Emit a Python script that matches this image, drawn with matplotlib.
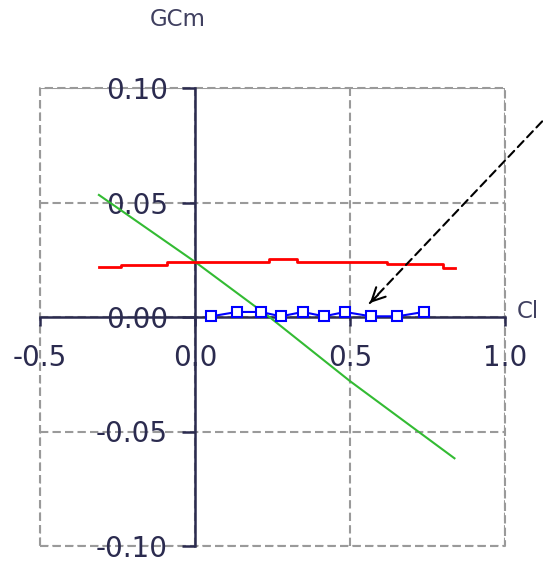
import matplotlib
matplotlib.use("Agg")
import matplotlib.pyplot as plt

# data
green_cl = [-0.31, 0.0, 0.24, 0.5, 0.72, 0.837]
green_cm = [0.0533, 0.0241, 0.0, -0.028, -0.05, -0.0617]

red_cl = [-0.31, -0.24, -0.24, -0.09, -0.09, 0.24, 0.24, 0.33, 0.33, 0.62, 0.62, 0.80, 0.80, 0.84]
red_cm = [0.0217, 0.0217, 0.0227, 0.0227, 0.0242, 0.0242, 0.0252, 0.0252, 0.0242, 0.0242, 0.0231, 0.0231, 0.0214, 0.0214]

blue_cl = [0.052, 0.135, 0.212, 0.277, 0.348, 0.416, 0.484, 0.567, 0.653, 0.738]
blue_cm = [0.0003, 0.0022, 0.0022, 0.0003, 0.0022, 0.0003, 0.0022, 0.0003, 0.0003, 0.0022]

x_ticks = [-0.5, 0.0, 0.5, 1.0]
x_labels = ["-0.5", "0.0", "0.5", "1.0"]
y_ticks = [-0.10, -0.05, 0.00, 0.05, 0.10]
y_labels = ["-0.10", "-0.05", "0.00", "0.05", "0.10"]

arrow_tip = (0.564, 0.0061)
arrow_tail = (1.18, 0.094)

dark = "#2b2b4f"
grey = "#9a9a9a"

fig = plt.figure(figsize=(5.43, 5.63), dpi=100)
ax = fig.add_axes([40 / 543, 17 / 563, 465 / 543, 458 / 563])
ax.set_xlim(-0.5, 1.0)
ax.set_ylim(-0.10, 0.10)

# axes cross at zero
ax.spines["left"].set_position(("data", 0))
ax.spines["bottom"].set_position(("data", 0))
for s in ["left", "bottom"]:
    ax.spines[s].set_color(dark)
    ax.spines[s].set_linewidth(1.8)
    ax.spines[s].set_zorder(2.5)
ax.spines["top"].set_visible(False)
ax.spines["right"].set_visible(False)

# dashed grid and outer box
ax.grid(True, linestyle=(0, (4, 2)), color=grey, linewidth=1.5, zorder=0)
ax.set_axisbelow(True)
ax.plot([0, 1, 1, 0, 0], [0, 0, 1, 1, 0], transform=ax.transAxes, clip_on=False,
        linestyle=(0, (4, 2)), color=grey, linewidth=1.5, zorder=0)

ax.set_xticks(x_ticks)
ax.set_xticklabels(x_labels)
ax.set_yticks(y_ticks)
ax.set_yticklabels(y_labels)
ax.tick_params(axis="x", direction="out", length=6.5, width=1.8, pad=13, colors=dark, labelsize=20)
ax.tick_params(axis="y", direction="out", length=9.5, width=1.8, pad=10, colors=dark, labelsize=20)

# the three curves
ax.plot(green_cl, green_cm, color="#33bb33", linewidth=1.5, zorder=3)
ax.plot(red_cl, red_cm, color="#ff0000", linewidth=2, zorder=3)
ax.plot(blue_cl, blue_cm, color="#0000ff", linewidth=1.5, marker="s", markersize=6.5,
        markerfacecolor="white", markeredgewidth=1.5, zorder=4)

# dashed arrow coming in from the top right, head drawn solid on its own
ax.annotate("", xy=arrow_tip, xytext=arrow_tail, annotation_clip=False,
            arrowprops=dict(arrowstyle="-", linestyle=(0, (4, 2.5)), color="black",
                            linewidth=1.5, shrinkA=0, shrinkB=0))
ax.annotate("", xy=arrow_tip, xytext=(6, 6), textcoords="offset points",
            arrowprops=dict(arrowstyle="->", color="black", linewidth=1.5,
                            mutation_scale=24, shrinkA=0, shrinkB=0))

# axis names
fig.text(178 / 543, 1 - 20 / 563, "GCm", color="#404060", fontsize=16.5, ha="center", va="center")
fig.text(517 / 543, 1 - 311 / 563, "Cl", color="#404060", fontsize=16.5, ha="left", va="center")

fig.savefig("out.png", dpi=100)
